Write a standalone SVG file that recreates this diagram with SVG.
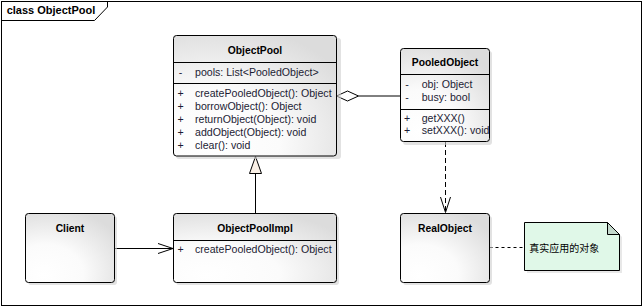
<svg xmlns="http://www.w3.org/2000/svg" width="644" height="308" viewBox="0 0 644 308">
<defs>
<radialGradient id="boxg" cx="0.25" cy="0.85" r="0.95" fx="0.2" fy="0.9">
<stop offset="0" stop-color="#ffffff"/>
<stop offset="0.45" stop-color="#fbfbfb"/>
<stop offset="1" stop-color="#dcdcdc"/>
</radialGradient>
<style>
.box{fill:url(#boxg);stroke:#000;stroke-width:1}
.shadow{fill:#cfcfcf;opacity:0.6}
.sep{stroke:#000;stroke-width:1}
.title{font-family:"Liberation Sans",Arial,sans-serif;font-weight:bold;font-size:10.3px;fill:#000;text-anchor:middle}
.mem{font-family:"Liberation Sans",Arial,sans-serif;font-size:10.6px;fill:#1c1c34}
.mk{font-family:"Liberation Sans",Arial,sans-serif;font-size:10.6px;fill:#1c1c34;text-anchor:middle}
.line{stroke:#000;stroke-width:1;fill:none}
</style>
</defs>
<rect x="0" y="0" width="644" height="308" fill="#fff"/>
<g id="frame">
<rect x="1.5" y="1.5" width="640" height="304" fill="none" stroke="#000" stroke-width="1"/>
<path d="M1.5,20.5 H94.5 L107.5,7 V1.5" fill="none" stroke="#000" stroke-width="1"/>
<text x="6.7" y="14" font-family="'Liberation Sans',Arial,sans-serif" font-weight="bold" font-size="11px" fill="#000">class ObjectPool</text>
</g>
<g id="connectors">
<!-- aggregation -->
<polygon points="336.5,96 347.5,91 358.5,96 347.5,101" fill="#fff" stroke="#000" stroke-width="1"/>
<line class="line" x1="358.5" y1="96" x2="400.5" y2="96"/>
<!-- generalization -->
<line class="line" x1="255.5" y1="173.5" x2="255.5" y2="213.5"/>
<polygon points="255.5,156.5 249.5,173.5 261.5,173.5" fill="#faf0e6" stroke="#000" stroke-width="1"/>
<!-- association -->
<line class="line" x1="114.5" y1="248.5" x2="173" y2="248.5"/>
<polyline class="line" points="158,243.5 173,248.5 158,253.5"/>
<!-- dependency -->
<line class="line" x1="445.5" y1="142" x2="445.5" y2="212.5" stroke-dasharray="5,3"/>
<polyline class="line" points="440.5,197 445.5,212.5 450.5,197"/>
<!-- note link -->
<line class="line" x1="489.5" y1="247.5" x2="524.5" y2="247.5" stroke-dasharray="3,3"/>
</g>
<g id="ObjectPool">
<rect class="shadow" x="176" y="38" width="165" height="121" rx="3"/>
<rect class="box" x="173.5" y="35.5" width="163" height="120.5" rx="3"/>
<line class="sep" x1="173.5" y1="62.5" x2="336.5" y2="62.5"/>
<line class="sep" x1="173.5" y1="83.5" x2="336.5" y2="83.5"/>
<text class="title" x="255" y="54">ObjectPool</text>
<text class="mk" x="180.5" y="75.5">-</text>
<text class="mem" x="195" y="75.5">pools: List&lt;PooledObject&gt;</text>
<text class="mk" x="180.5" y="96.5">+</text>
<text class="mem" x="195" y="96.5">createPooledObject(): Object</text>
<text class="mk" x="180.5" y="109.5">+</text>
<text class="mem" x="195" y="109.5">borrowObject(): Object</text>
<text class="mk" x="180.5" y="122.5">+</text>
<text class="mem" x="195" y="122.5">returnObject(Object): void</text>
<text class="mk" x="180.5" y="135.5">+</text>
<text class="mem" x="195" y="135.5">addObject(Object): void</text>
<text class="mk" x="180.5" y="148.5">+</text>
<text class="mem" x="195" y="148.5">clear(): void</text>
</g>
<g id="PooledObject">
<rect class="shadow" x="403" y="51" width="89" height="94" rx="3"/>
<rect class="box" x="400.5" y="48.5" width="89" height="93" rx="3"/>
<line class="sep" x1="400.5" y1="74.5" x2="489.5" y2="74.5"/>
<line class="sep" x1="400.5" y1="109.5" x2="489.5" y2="109.5"/>
<text class="title" x="445" y="66">PooledObject</text>
<text class="mk" x="407" y="87.5">-</text>
<text class="mem" x="421.7" y="87.5">obj: Object</text>
<text class="mk" x="407" y="100.8">-</text>
<text class="mem" x="421.7" y="100.8">busy: bool</text>
<text class="mk" x="407" y="121.5">+</text>
<text class="mem" x="421.7" y="121.5">getXXX()</text>
<text class="mk" x="407" y="134">+</text>
<text class="mem" x="421.7" y="134">setXXX(): void</text>
</g>
<g id="ObjectPoolImpl">
<rect class="shadow" x="176" y="216" width="163" height="69" rx="3"/>
<rect class="box" x="173.5" y="213.5" width="163" height="69" rx="3"/>
<line class="sep" x1="173.5" y1="240.5" x2="336.5" y2="240.5"/>
<text class="title" x="255" y="231.5">ObjectPoolImpl</text>
<text class="mk" x="180.5" y="253">+</text>
<text class="mem" x="195" y="253">createPooledObject(): Object</text>
</g>
<g id="Client">
<rect class="shadow" x="28" y="216" width="89" height="69" rx="3"/>
<rect class="box" x="25.5" y="213.5" width="89" height="69" rx="3"/>
<text class="title" x="70" y="231.5">Client</text>
</g>
<g id="RealObject">
<rect class="shadow" x="403" y="216" width="89" height="69" rx="3"/>
<rect class="box" x="400.5" y="213.5" width="89" height="69" rx="3"/>
<text class="title" x="445" y="231.5">RealObject</text>
</g>
<g id="note">
<polygon points="527,225 610,225 622,237 622,273 527,273" fill="#d8d8d8" opacity="0.6"/>
<polygon points="524.5,222.5 607.5,222.5 619.5,234.5 619.5,270.5 524.5,270.5" fill="#e0f8e8" stroke="#000" stroke-width="1"/>
<polygon points="607.5,222.5 607.5,234.5 619.5,234.5" fill="#c4d8cc" stroke="#000" stroke-width="1"/>
<text x="529.3" y="251.5" font-family="'Noto Sans CJK SC',sans-serif" font-size="10px" fill="#000">真实应用的对象</text>
</g>
</svg>
